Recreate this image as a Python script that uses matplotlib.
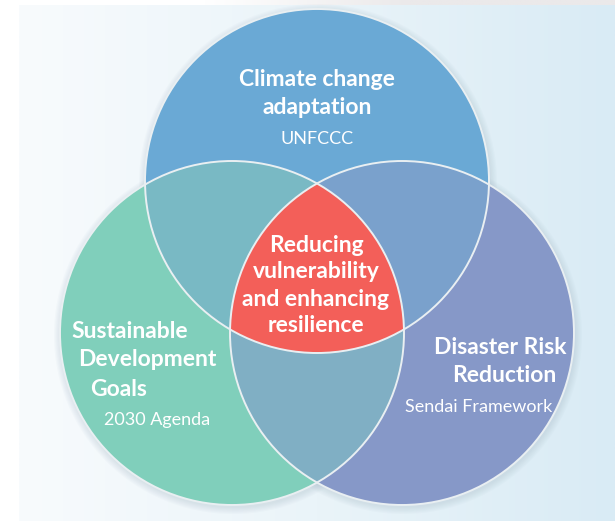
import numpy as np
import matplotlib.pyplot as plt
from matplotlib.patches import Circle, Polygon
from matplotlib.colors import LinearSegmentedColormap

# circles: name, centre (pixels), colour
circle_names = ["cca", "sdg", "drr"]
circle_x = [317, 232, 402]
circle_y = [181, 333, 333]
radius = 172
circle_colors = ["#6aa9d5", "#80cfbb", "#8698c8"]

# pairwise overlaps and the centre
pair_ids = [(0, 1), (0, 2), (1, 2)]
pair_colors = ["#79b9c4", "#7aa1cc", "#80afc4"]
core_color = "#f35f59"

# labels
top_title = ["Climate change", "adaptation"]
top_sub = "UNFCCC"
left_title = ["Sustainable", "Development", "Goals"]
left_sub = "2030 Agenda"
right_title = ["Disaster Risk", "Reduction"]
right_sub = "Sendai Framework"
core_text = ["Reducing", "vulnerability", "and enhancing", "resilience"]

plt.rcParams['font.family'] = ['Lato', 'DejaVu Sans']


def inside(px, py, ids):
    ok = np.ones_like(px, dtype=bool)
    for i in ids:
        ok &= (px - circle_x[i]) ** 2 + (py - circle_y[i]) ** 2 <= radius ** 2 + 0.5
    return ok


def region(ids):
    # boundary of the intersection of the given circles, as a polygon
    t = np.linspace(0, 2 * np.pi, 3000)
    xs, ys = [], []
    for i in ids:
        px = circle_x[i] + radius * np.cos(t)
        py = circle_y[i] + radius * np.sin(t)
        m = inside(px, py, ids)
        xs.append(px[m])
        ys.append(py[m])
    xs = np.concatenate(xs)
    ys = np.concatenate(ys)
    ang = np.arctan2(ys - ys.mean(), xs - xs.mean())
    o = np.argsort(ang)
    return np.column_stack([xs[o], ys[o]])


fig = plt.figure(figsize=(6.15, 5.21), dpi=100)
ax = fig.add_axes([0, 0, 1, 1])
ax.set_xlim(0, 615)
ax.set_ylim(521, 0)
ax.axis("off")

# background panel
bg = LinearSegmentedColormap.from_list("bg", ["#f8fbfd", "#eaf4f9", "#d9ebf5"])
grad = np.linspace(0, 1, 256).reshape(1, -1)
ax.imshow(grad, cmap=bg, extent=[19, 615, 521, 5], aspect="auto", zorder=0)
strip = LinearSegmentedColormap.from_list("strip", ["#ffffff", "#ffffff", "#ebe9ea", "#ebe9ea"])
ax.imshow(grad, cmap=strip, extent=[0, 615, 5, 0], aspect="auto", zorder=0)

# soft shadow
for k in range(6):
    for i in range(3):
        ax.add_patch(Circle((circle_x[i] + 1, circle_y[i] + 2), radius + 1 + k * 1.2,
                            color="#9fb4c2", alpha=0.05, lw=0, zorder=1))

for i in range(3):
    ax.add_patch(Circle((circle_x[i], circle_y[i]), radius, color=circle_colors[i], lw=0, zorder=2))

for (a, b), c in zip(pair_ids, pair_colors):
    ax.add_patch(Polygon(region([a, b]), closed=True, color=c, lw=0, zorder=3))

ax.add_patch(Polygon(region([0, 1, 2]), closed=True, color=core_color, lw=0, zorder=4))

for i in range(3):
    ax.add_patch(Circle((circle_x[i], circle_y[i]), radius, fill=False,
                        edgecolor="#e9eff2", lw=1.4, zorder=5))

bold = dict(color="white", fontsize=16.5, fontweight="bold", va="center", zorder=6)
reg = dict(color="white", fontsize=13, va="center", zorder=6)

for s, y in zip(top_title, [80, 108]):
    ax.text(317, y, s, ha="center", **bold)
ax.text(317, 139, top_sub, ha="center", **reg)

for s, y in zip(core_text, [245, 272, 299, 325]):
    ax.text(316, y, s, ha="center", **bold)

for s, x, y in zip(left_title, [71, 78, 90], [331, 360, 389]):
    ax.text(x, y, s, ha="left", **bold)
ax.text(104, 420, left_sub, ha="left", **reg)

for s, x, y in zip(right_title, [567, 556], [348, 376]):
    ax.text(x, y, s, ha="right", **bold)
ax.text(552, 407, right_sub, ha="right", **reg)

fig.savefig("out.png", dpi=100)
